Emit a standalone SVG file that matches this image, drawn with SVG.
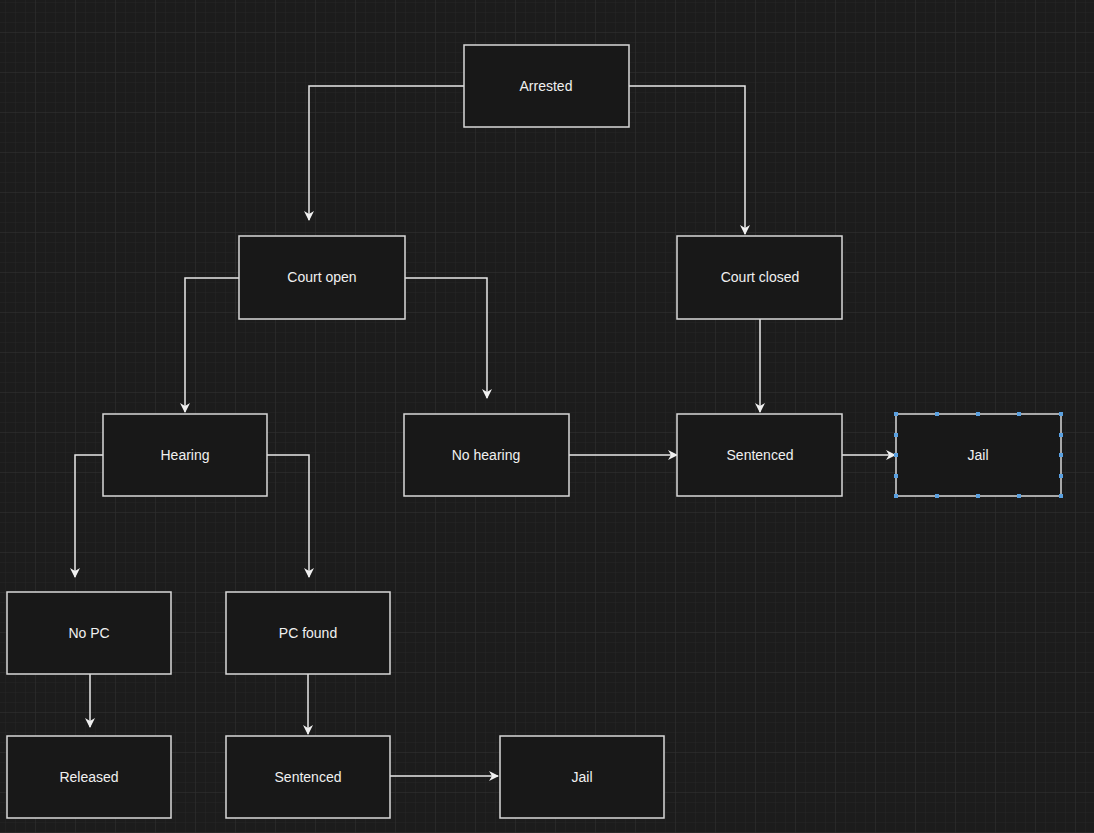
<svg xmlns="http://www.w3.org/2000/svg" width="1094" height="833" viewBox="0 0 1094 833">
<defs>
<pattern id="g" width="10" height="10" patternUnits="userSpaceOnUse"><path d="M10 0V10H0" fill="none" stroke="#262626" stroke-width="1"/></pattern>
<pattern id="G" width="40" height="40" patternUnits="userSpaceOnUse" x="-4" y="-7"><rect width="40" height="40" fill="url(#g)"/><path d="M40 0V40H0" fill="none" stroke="#2e2e2e" stroke-width="1"/></pattern>
<marker id="a" viewBox="0 0 10 10" refX="9" refY="5" markerWidth="10" markerHeight="10" markerUnits="userSpaceOnUse" orient="auto"><path d="M0 0L10 5L0 10L3 5Z" fill="#f0f0f0"/></marker>
</defs>
<style>
.n rect{fill:#181818;stroke:#d8d8d8;stroke-width:1.5}
.n text{fill:#f0f0f0;font-family:"Liberation Sans",Arial,sans-serif;font-size:14px;text-anchor:middle;dominant-baseline:central}
#e path{fill:none;stroke:#e8e8e8;stroke-width:1.5;marker-end:url(#a)}
.n .h rect{fill:#5aa0e0;stroke:none}
</style>
<rect width="1094" height="833" fill="#1c1c1c"/>
<rect width="1094" height="833" fill="url(#G)"/>
<g id="e">
<path d="M464 86H309V220"/>
<path d="M629 86H745V234"/>
<path d="M239 278H185V412"/>
<path d="M405 278H487V398"/>
<path d="M760 319V412"/>
<path d="M569 455H677"/>
<path d="M842 455H895"/>
<path d="M103 455H75V577"/>
<path d="M267 455H309V577"/>
<path d="M90 674V727"/>
<path d="M308 674V734"/>
<path d="M390 776H498"/>
</g>
<g id="arrested" class="n"><rect x="464" y="45" width="165" height="82"/><text x="546" y="86">Arrested</text></g>
<g id="court-open" class="n"><rect x="239" y="236" width="166" height="83"/><text x="322" y="277">Court open</text></g>
<g id="court-closed" class="n"><rect x="677" y="236" width="165" height="83"/><text x="760" y="277">Court closed</text></g>
<g id="hearing" class="n"><rect x="103" y="414" width="164" height="82"/><text x="185" y="455">Hearing</text></g>
<g id="no-hearing" class="n"><rect x="404" y="414" width="165" height="82"/><text x="486" y="455">No hearing</text></g>
<g id="sentenced1" class="n"><rect x="677" y="414" width="165" height="82"/><text x="760" y="455">Sentenced</text></g>
<g id="jail1" class="n"><rect x="896" y="414" width="165" height="82"/><text x="978" y="455">Jail</text>
<g class="h"><rect x="894" y="412" width="4" height="4"/><rect x="935" y="412" width="4" height="4"/><rect x="976" y="412" width="4" height="4"/><rect x="1017" y="412" width="4" height="4"/><rect x="1059" y="412" width="4" height="4"/><rect x="894" y="494" width="4" height="4"/><rect x="935" y="494" width="4" height="4"/><rect x="976" y="494" width="4" height="4"/><rect x="1017" y="494" width="4" height="4"/><rect x="1059" y="494" width="4" height="4"/><rect x="894" y="433" width="4" height="4"/><rect x="894" y="453" width="4" height="4"/><rect x="894" y="474" width="4" height="4"/><rect x="1059" y="433" width="4" height="4"/><rect x="1059" y="453" width="4" height="4"/><rect x="1059" y="474" width="4" height="4"/></g></g>
<g id="no-pc" class="n"><rect x="7" y="592" width="164" height="82"/><text x="89" y="633">No PC</text></g>
<g id="pc-found" class="n"><rect x="226" y="592" width="164" height="82"/><text x="308" y="633">PC found</text></g>
<g id="released" class="n"><rect x="7" y="736" width="164" height="82"/><text x="89" y="777">Released</text></g>
<g id="sentenced2" class="n"><rect x="226" y="736" width="164" height="82"/><text x="308" y="777">Sentenced</text></g>
<g id="jail2" class="n"><rect x="500" y="736" width="164" height="82"/><text x="582" y="777">Jail</text></g>
</svg>
